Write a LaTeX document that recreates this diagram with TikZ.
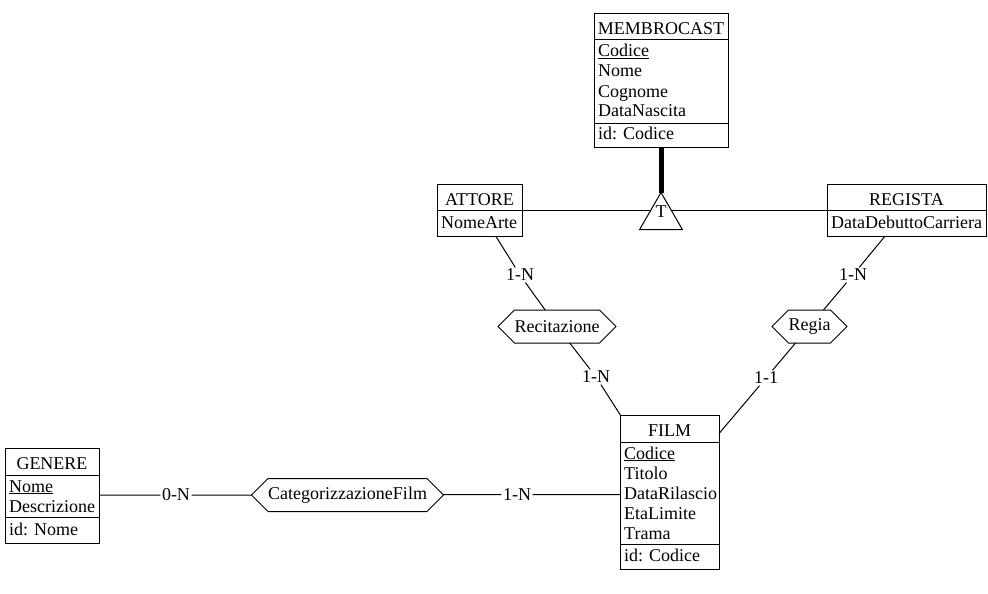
\documentclass[tikz,border=0pt]{standalone}
\usepackage{fontspec}
\setmainfont{Liberation Serif}
\usetikzlibrary{shapes.geometric,shapes.symbols}
\tikzset{
  erfont/.style={font=\fontsize{18}{20}\selectfont},
  er/.style={line width=1pt},
  ent/.style={draw, line width=1pt, rectangle, inner sep=0pt, outer sep=0pt, anchor=north west},
  txt/.style={erfont, inner sep=0pt},
  rel/.style={erfont, draw, line width=1pt, shape=signal, signal to=west and east,
    signal pointer angle=90, inner xsep=0pt, inner ysep=0pt, minimum height=33pt, outer sep=0pt},
  card/.style={erfont, inner sep=1.5pt},
  isabox/.style={draw, line width=1pt, regular polygon, regular polygon sides=3,
    minimum size=49.4pt, inner sep=0pt, outer sep=0pt},
}
\begin{document}
\begin{tikzpicture}[x=1pt, y=-1pt]
  \fill[white] (0,0) rectangle (988,594);
  \useasboundingbox (0,0) rectangle (988,594);

  % MEMBROCAST
  \node[ent, minimum width=134pt, minimum height=133pt] (membro) at (594,14) {};
  \draw[er] (594,40) -- (728,40);
  \draw[er] (594,123) -- (728,123);
  \node[txt, anchor=base] (membroT) at (661,35) {MEMBROCAST};
  \node[txt, anchor=base west] (membroA1) at (598,57) {\underline{Codice}};
  \node[txt, anchor=base west] (membroA2) at (598,77) {Nome};
  \node[txt, anchor=base west] (membroA3) at (598,97) {Cognome};
  \node[txt, anchor=base west] (membroA4) at (598,117) {DataNascita};
  \node[txt, anchor=base west] (membroId) at (598,139) {id: Codice};

  % ATTORE
  \node[ent, minimum width=85pt, minimum height=52pt] (attore) at (437,184) {};
  \draw[er] (437,210) -- (522,210);
  \node[txt, anchor=base] (attoreT) at (479.5,205) {ATTORE};
  \node[txt, anchor=base west] (attoreA1) at (441,228) {NomeArte};

  % REGISTA
  \node[ent, minimum width=159pt, minimum height=52pt] (regista) at (827,184) {};
  \draw[er] (827,210) -- (986,210);
  \node[txt, anchor=base] (registaT) at (906.5,205) {REGISTA};
  \node[txt, anchor=base west] (registaA1) at (831,228) {DataDebuttoCarriera};

  % FILM
  \node[ent, minimum width=99pt, minimum height=154pt] (film) at (620,415) {};
  \draw[er] (620,442) -- (719,442);
  \draw[er] (620,544) -- (719,544);
  \node[txt, anchor=base] (filmT) at (669.5,436) {FILM};
  \node[txt, anchor=base west] (filmA1) at (624,459) {\underline{Codice}};
  \node[txt, anchor=base west] (filmA2) at (624,479) {Titolo};
  \node[txt, anchor=base west] (filmA3) at (624,499) {DataRilascio};
  \node[txt, anchor=base west] (filmA4) at (624,519) {EtaLimite};
  \node[txt, anchor=base west] (filmA5) at (624,539) {Trama};
  \node[txt, anchor=base west] (filmId) at (624,561) {id: Codice};

  % GENERE
  \node[ent, minimum width=94pt, minimum height=95pt] (genere) at (5,448) {};
  \draw[er] (5,475) -- (99,475);
  \draw[er] (5,517) -- (99,517);
  \node[txt, anchor=base] (genereT) at (52,469) {GENERE};
  \node[txt, anchor=base west] (genereA1) at (9,492) {\underline{Nome}};
  \node[txt, anchor=base west] (genereA2) at (9,512) {Descrizione};
  \node[txt, anchor=base west] (genereId) at (9,535) {id: Nome};

  % Generalisation MEMBROCAST -> ATTORE, REGISTA
  \node[isabox] (isa) at (661,217.2) {};
  \node[txt] (isaT) at (661,212) {T};
  \coordinate (isaL) at (651,210);
  \coordinate (isaR) at (671,210);
  \draw[line width=5pt] (membro.south) -- (isa.corner 1);
  \draw[er] (attore.east) -- (isaL);
  \draw[er] (isaR) -- (regista.west);

  % Relationships
  \node[rel] (recit) at (557,326.5) {Recitazione};
  \node[rel] (regia) at (809.5,326.5) {Regia};
  \node[rel] (categ) at (347.5,495) {CategorizzazioneFilm};

  % Cardinalities
  \node[card] (c1) at (520,275) {1-N};
  \node[card] (c2) at (596,377) {1-N};
  \node[card] (c3) at (853,275) {1-N};
  \node[card] (c4) at (766,378) {1-1};
  \node[card] (c5) at (176,495) {0-N};
  \node[card] (c6) at (517,494.5) {1-N};

  % Connectors
  \draw[er] (attore) -- (c1) -- (recit);
  \draw[er] (recit) -- (c2) -- (film);
  \draw[er] (regista) -- (c3) -- (regia);
  \draw[er] (regia) -- (c4) -- (film);
  \draw[er] (genere.east |- c5) -- (c5) -- (categ);
  \draw[er] (categ) -- (c6) -- (c6 -| film.west);
\end{tikzpicture}
\end{document}
